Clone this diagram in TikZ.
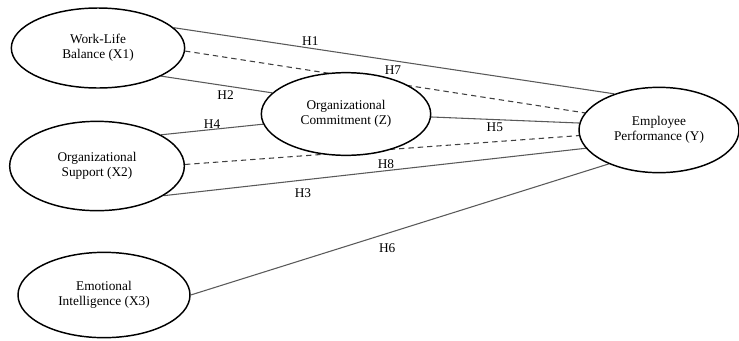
\documentclass[tikz,border=0pt]{standalone}
\usepackage{fontspec}
\setmainfont{Liberation Serif}
\usepackage{tikz}
\usetikzlibrary{shapes.geometric,backgrounds}

\tikzset{
  construct/.style={ellipse, draw=black, line width=1.1pt, fill=white,
    align=center, font=\fontsize{10}{11.5}\selectfont, inner sep=0pt},
  link/.style={draw=black!65, line width=0.8pt},
  indirect/.style={draw=black!75, line width=0.8pt, dashed, dash pattern=on 4pt off 3pt},
  hyp/.style={font=\fontsize{10}{11}\selectfont, inner sep=1pt}
}

\begin{document}
\begin{tikzpicture}[x=0.75pt, y=-0.75pt]
\useasboundingbox (0,0) rectangle (739,340);

% constructs
\node[construct, minimum width=130pt, minimum height=60pt] (x1) at (98,48) {Work-Life\\Balance (X1)};
\node[construct, minimum width=131pt, minimum height=67pt] (x2) at (97,166) {Organizational\\Support (X2)};
\node[construct, minimum width=129pt, minimum height=64pt] (x3) at (104,295) {Emotional\\Intelligence (X3)};
\node[construct, minimum width=127pt, minimum height=62pt] (z) at (346,114) {Organizational\\Commitment (Z)};
\node[construct, minimum width=120pt, minimum height=64pt] (y) at (659,130) {Employee\\Performance (Y)};

% paths, behind the ellipses
\begin{pgfonlayer}{background}
\draw[link] (x1.15) -- node[hyp, pos=0.31, above=1pt] {H1} (y.141);
\draw[indirect] (x1.-2) -- node[hyp, pos=0.52, above=5pt] {H7} (y.167);
\draw[link] (x1.-24) -- node[hyp, pos=0.58, below=2pt] {H2} (z.164);
\draw[link] (x2.26) -- node[hyp, pos=0.5, above=-1pt] {H4} (z.-173);
\draw[indirect] (x2.1) -- node[hyp, pos=0.51, below=6pt] {H8} (y.-176);
\draw[link] (x2.-24) -- node[hyp, pos=0.33, below=5pt] {H3} (y.-166);
\draw[link] (z.-2) -- node[hyp, pos=0.43, below=1pt] {H5} (y.175);
\draw[link] (x3.0) -- node[hyp, pos=0.47, below=6pt] {H6} (y.-146);
\end{pgfonlayer}
\end{tikzpicture}
\end{document}
